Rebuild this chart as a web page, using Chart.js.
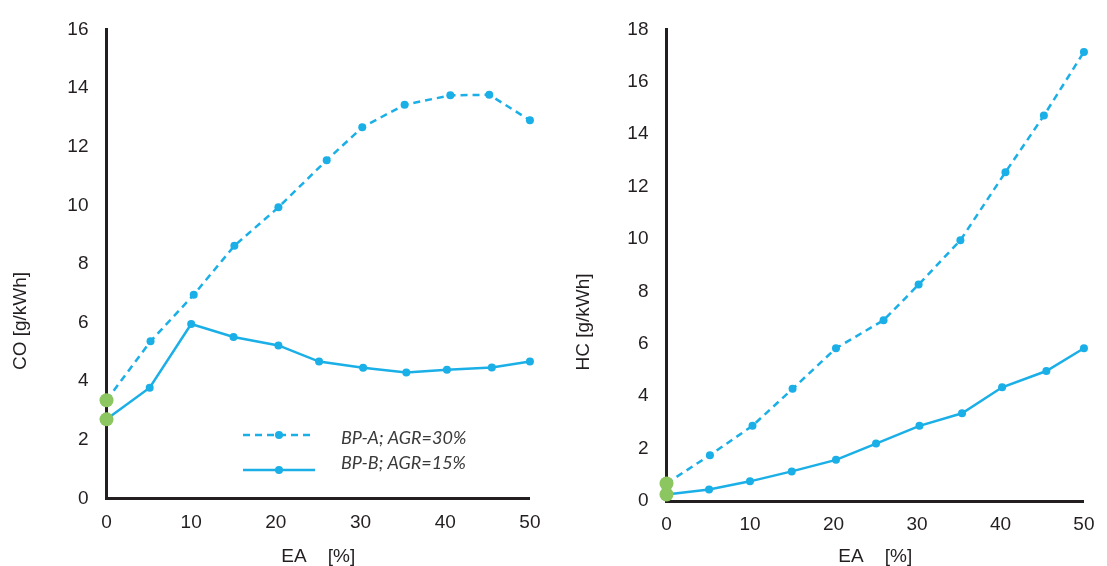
<!DOCTYPE html>
<html><head><meta charset="utf-8">
<script src="https://cdn.jsdelivr.net/npm/chart.js@4.4.0/dist/chart.umd.min.js"></script>
<style>
html,body{margin:0;padding:0;background:#fff;overflow:hidden;width:1107px;height:566px;}
#wrapL{position:absolute;left:0;top:0;width:553px;height:568px;}
#wrapR{position:absolute;left:553px;top:0;width:554px;height:568px;}
</style></head><body>
<div id="wrapL"><canvas id="co" width="553" height="568"></canvas></div>
<div id="wrapR"><canvas id="hc" width="554" height="568"></canvas></div>
<script>
// ---- data ----
const seriesNames = ['BP-A; AGR=30%', 'BP-B; AGR=15%'];
const eaA = [0, 5.2, 10.3, 15.1, 20.3, 26.0, 30.2, 35.2, 40.6, 45.2, 50];
const eaB = [0, 5.1, 10.0, 15.0, 20.3, 25.1, 30.3, 35.4, 40.2, 45.5, 50];
const coA = [3.35, 5.36, 6.95, 8.62, 9.93, 11.54, 12.66, 13.43, 13.75, 13.77, 12.9];
const coB = [2.7, 3.78, 5.95, 5.51, 5.22, 4.67, 4.46, 4.30, 4.39, 4.47, 4.67];
const hcA = [0.67, 1.75, 2.87, 4.28, 5.83, 6.90, 8.26, 9.95, 12.55, 14.71, 17.14];
const hcB = [0.25, 0.44, 0.75, 1.13, 1.57, 2.19, 2.87, 3.35, 4.34, 4.96, 5.83];
const baseEA = [0, 0];
const coBase = [3.35, 2.7];
const hcBase = [0.67, 0.25];
const xTitle = 'EA    [%]';
const coTitle = 'CO [g/kWh]';
const hcTitle = 'HC [g/kWh]';

const BLUE = '#1aafe6';
const GREEN = '#8bc660';
const INK = '#231f20';
const TICKFONT = {family: '"Liberation Sans", Arial, sans-serif', size: 19};

function pts(xs, ys){ return xs.map((x,i)=>({x:x, y:ys[i]})); }

const yTitlePlugin = {
  id: 'yTitle',
  afterDraw(chart, args, opts){
    if(!opts || !opts.text) return;
    const ctx = chart.ctx;
    ctx.save();
    ctx.translate(opts.x, opts.y);
    ctx.rotate(-Math.PI/2);
    ctx.font = '19px "Liberation Sans", Arial, sans-serif';
    ctx.fillStyle = INK;
    ctx.textAlign = 'center';
    ctx.textBaseline = 'middle';
    ctx.fillText(opts.text, 0, 0);
    ctx.restore();
  }
};

const lineLegendPlugin = {
  id: 'lineLegend',
  afterDatasetsDraw(chart, args, opts){
    if(!opts || !opts.show) return;
    const ctx = chart.ctx;
    opts.rows.forEach((r, i) => {
      const ds = chart.data.datasets[r.ds];
      ctx.save();
      ctx.strokeStyle = ds.borderColor;
      ctx.lineWidth = ds.borderWidth;
      ctx.setLineDash(ds.borderDash || []);
      ctx.beginPath(); ctx.moveTo(r.x0, r.ly); ctx.lineTo(r.x1, r.ly); ctx.stroke();
      ctx.setLineDash([]);
      ctx.fillStyle = ds.pointBackgroundColor;
      ctx.beginPath(); ctx.arc(r.mx, r.ly, ds.pointRadius, 0, Math.PI*2); ctx.fill();
      ctx.font = 'italic 18px Lato, "Open Sans", sans-serif';
      ctx.fillStyle = '#3a3a3a';
      ctx.textAlign = 'left';
      ctx.textBaseline = 'middle';
      ctx.fillText(ds.label, r.tx, r.ty);
      ctx.restore();
    });
  }
};

function makeChart(id, aVals, bVals, baseVals, yMax, geo, yTitleOpts, legendOpts){
  return new Chart(document.getElementById(id), {
    type: 'line',
    data: {
      datasets: [
        { label: 'base', data: pts(baseEA, baseVals), showLine: false,
          pointRadius: 7, pointBackgroundColor: GREEN, pointBorderWidth: 0,
          borderColor: GREEN, order: 0, clip: false },
        { label: seriesNames[0], data: pts(eaA, aVals), borderColor: BLUE, borderWidth: 2.5,
          borderDash: [7, 5], pointRadius: 4, pointBackgroundColor: BLUE, pointBorderWidth: 0,
          tension: 0, fill: false, order: 1, clip: false },
        { label: seriesNames[1], data: pts(eaB, bVals), borderColor: BLUE, borderWidth: 2.5,
          pointRadius: 4, pointBackgroundColor: BLUE, pointBorderWidth: 0,
          tension: 0, fill: false, order: 2, clip: false }
      ]
    },
    options: {
      responsive: false,
      animation: false,
      devicePixelRatio: 1,
      layout: { padding: { top: geo.top, right: geo.right, left: 0, bottom: 0 } },
      plugins: {
        legend: { display: false },
        tooltip: { enabled: false },
        yTitle: yTitleOpts,
        lineLegend: legendOpts
      },
      scales: {
        x: {
          type: 'linear', min: 0, max: 50,
          ticks: { stepSize: 10, color: INK, font: TICKFONT, padding: 12.5, maxRotation: 0 },
          grid: { display: false, drawTicks: false },
          border: { display: true, color: INK, width: 3 },
          title: { display: true, text: xTitle, color: INK, font: TICKFONT, padding: 0 },
          afterFit(s){ s.height = geo.xh; }
        },
        y: {
          type: 'linear', min: 0, max: yMax,
          ticks: { stepSize: 2, color: INK, font: TICKFONT, padding: 18 },
          grid: { display: false, drawTicks: false },
          border: { display: true, color: INK, width: 3 },
          afterFit(s){ s.width = geo.yw; }
        }
      }
    },
    plugins: [yTitlePlugin, lineLegendPlugin]
  });
}

makeChart('co', coA, coB, coBase, 16,
  { top: 25, right: 18.5, xh: 69.5, yw: 106.5 },
  { text: coTitle, x: 21, y: 321 },
  { show: true, rows: [
      { ds: 1, x0: 243, x1: 311, ly: 435, mx: 279, tx: 341, ty: 438 },
      { ds: 2, x0: 243, x1: 315, ly: 470, mx: 279, tx: 341, ty: 463 }
  ] });

makeChart('hc', hcA, hcB, hcBase, 18,
  { top: 25, right: 12, xh: 67, yw: 113.5 },
  { text: hcTitle, x: 31, y: 322 },
  { show: false });
</script>
</body></html>
